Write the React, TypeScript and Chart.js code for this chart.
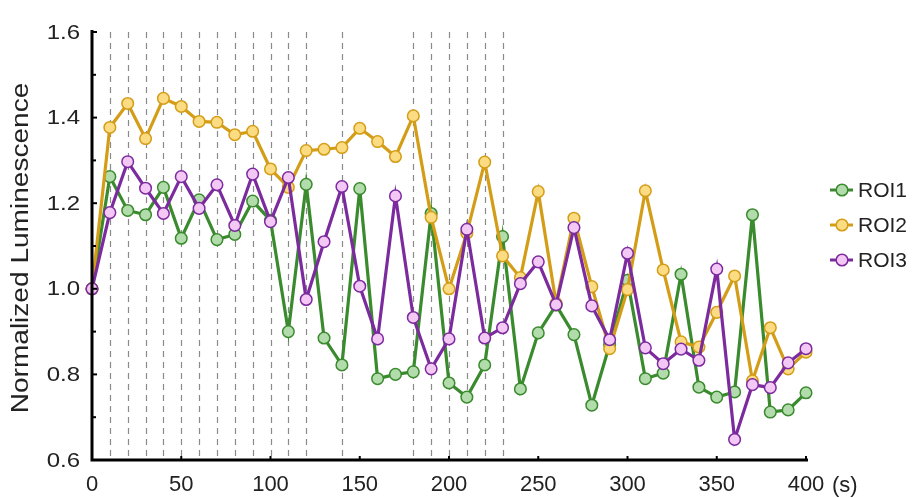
import React, { useEffect, useRef } from "react";
import { Chart, registerables } from "chart.js";

Chart.register(...registerables);

const times = [0, 10, 20, 30, 40, 50, 60, 70, 80, 90, 100, 110, 120, 130, 140, 150, 160, 170, 180, 190, 200, 210, 220, 230, 240, 250, 260, 270, 280, 290, 300, 310, 320, 330, 340, 350, 360, 370, 380, 390, 400];

const roi1 = [1.0, 1.262, 1.183, 1.173, 1.237, 1.118, 1.208, 1.115, 1.127, 1.205, 1.16, 0.9, 1.244, 0.885, 0.822, 1.234, 0.79, 0.8, 0.806, 1.176, 0.78, 0.747, 0.822, 1.122, 0.766, 0.897, 0.962, 0.893, 0.728, 0.87, 1.02, 0.79, 0.803, 1.034, 0.77, 0.747, 0.759, 1.173, 0.712, 0.717, 0.757];
const roi2 = [1.0, 1.377, 1.433, 1.351, 1.445, 1.426, 1.391, 1.389, 1.36, 1.368, 1.28, 1.237, 1.323, 1.326, 1.33, 1.375, 1.344, 1.309, 1.404, 1.167, 1.0, 1.13, 1.296, 1.077, 1.026, 1.227, 0.966, 1.165, 1.005, 0.86, 0.998, 1.229, 1.044, 0.876, 0.864, 0.945, 1.03, 0.785, 0.909, 0.813, 0.852];
const roi3 = [1.0, 1.178, 1.297, 1.235, 1.176, 1.262, 1.188, 1.243, 1.148, 1.268, 1.157, 1.26, 0.975, 1.11, 1.239, 1.006, 0.883, 1.217, 0.933, 0.813, 0.883, 1.139, 0.885, 0.909, 1.012, 1.063, 0.963, 1.143, 0.96, 0.881, 1.083, 0.862, 0.825, 0.859, 0.833, 1.046, 0.648, 0.776, 0.769, 0.827, 0.86];

const seriesNames = ["ROI1", "ROI2", "ROI3"];
const markerTimes = [10, 20, 30, 40, 50, 60, 70, 80, 90, 100, 110, 120, 140, 180, 190, 200, 210, 220, 230];
const yTicks = [0.6, 0.8, 1.0, 1.2, 1.4, 1.6];
const yMinorTicks = [0.7, 0.9, 1.1, 1.3, 1.5];
const xTicks = [0, 50, 100, 150, 200, 250, 300, 350, 400];
const yTitle = "Normalized Luminescence";
const xUnit = "(s)";

const lineColors = ["#3a8a2e", "#d49d17", "#7c2b9f"];
const fillColors = ["#b3dcac", "#fcdc82", "#f4c8f4"];
const FONT = "'Liberation Sans', Arial, sans-serif";

export default function App() {
  const ref = useRef<HTMLCanvasElement | null>(null);

  useEffect(() => {
    const canvas = ref.current;
    if (!canvas) return;
    const allSeries = [roi1, roi2, roi3];

    const decorations = {
      id: "decorations",
      beforeDatasetsDraw(chart: any) {
        const { ctx, chartArea, scales } = chart;
        ctx.save();
        ctx.strokeStyle = "#8a8a8a";
        ctx.lineWidth = 1.2;
        ctx.setLineDash([6, 5]);
        for (const t of markerTimes) {
          const x = Math.round(scales.x.getPixelForValue(t)) + 0.5;
          ctx.beginPath();
          ctx.moveTo(x, chartArea.top);
          ctx.lineTo(x, chartArea.bottom);
          ctx.stroke();
        }
        ctx.restore();
      },
      afterDraw(chart: any) {
        const { ctx, chartArea, scales } = chart;
        ctx.save();
        // axes
        ctx.strokeStyle = "#000";
        ctx.lineWidth = 3;
        ctx.beginPath();
        ctx.moveTo(chartArea.left, chartArea.top - 2);
        ctx.lineTo(chartArea.left, chartArea.bottom);
        ctx.lineTo(chartArea.right + 2, chartArea.bottom);
        ctx.stroke();
        ctx.lineWidth = 2;
        for (const v of yTicks) {
          const y = scales.y.getPixelForValue(v);
          ctx.beginPath();
          ctx.moveTo(chartArea.left, y);
          ctx.lineTo(chartArea.left + 5, y);
          ctx.stroke();
        }
        for (const v of yMinorTicks) {
          const y = scales.y.getPixelForValue(v);
          ctx.beginPath();
          ctx.moveTo(chartArea.left, y);
          ctx.lineTo(chartArea.left + 4, y);
          ctx.stroke();
        }
        for (const v of xTicks) {
          const x = scales.x.getPixelForValue(v);
          ctx.beginPath();
          ctx.moveTo(x, chartArea.bottom);
          ctx.lineTo(x, chartArea.bottom - 4);
          ctx.stroke();
        }
        ctx.fillStyle = "#222";
        // y tick labels (slightly widened like the original lettering)
        ctx.font = `20px ${FONT}`;
        ctx.textAlign = "right";
        ctx.textBaseline = "middle";
        for (const v of yTicks) {
          const y = scales.y.getPixelForValue(v);
          ctx.save();
          ctx.translate(chartArea.left - 12, y + 1);
          ctx.scale(1.2, 1);
          ctx.fillText(v.toFixed(1), 0, 0);
          ctx.restore();
        }
        // y title
        ctx.save();
        ctx.translate(22, (chartArea.top + chartArea.bottom) / 2 + 2);
        ctx.rotate(-Math.PI / 2);
        ctx.scale(1.22, 1);
        ctx.font = `23px ${FONT}`;
        ctx.textAlign = "center";
        ctx.textBaseline = "middle";
        ctx.fillText(yTitle, 0, 0);
        ctx.restore();
        // unit label
        ctx.font = `22px ${FONT}`;
        ctx.textAlign = "left";
        ctx.textBaseline = "middle";
        ctx.fillText(xUnit, 832, 486);
        // legend
        const legendY = [190, 225, 260];
        seriesNames.forEach((name, i) => {
          const y = legendY[i];
          ctx.strokeStyle = lineColors[i];
          ctx.lineWidth = 3;
          ctx.beginPath();
          ctx.moveTo(830, y);
          ctx.lineTo(853, y);
          ctx.stroke();
          ctx.beginPath();
          ctx.arc(842, y, 5.8, 0, Math.PI * 2);
          ctx.fillStyle = fillColors[i];
          ctx.fill();
          ctx.lineWidth = 1.5;
          ctx.stroke();
          ctx.fillStyle = "#222";
          ctx.font = `21px ${FONT}`;
          ctx.textAlign = "left";
          ctx.textBaseline = "middle";
          ctx.fillText(name, 858, y + 1);
        });
        ctx.restore();
      },
    };

    const chart = new Chart(canvas, {
      type: "line",
      data: {
        datasets: allSeries.map((s, i) => ({
          label: seriesNames[i],
          data: times.map((t, k) => ({ x: t, y: s[k] })),
          borderColor: lineColors[i],
          backgroundColor: fillColors[i],
          pointBackgroundColor: fillColors[i],
          pointBorderColor: lineColors[i],
          borderWidth: 3.2,
          pointRadius: 5.8,
          pointBorderWidth: 1.5,
          tension: 0,
          clip: false,
          order: 2 - i,
        })),
      },
      options: {
        animation: false,
        responsive: false,
        maintainAspectRatio: false,
        layout: { padding: { left: 0, right: 109, top: 32, bottom: 0 } },
        plugins: { legend: { display: false }, tooltip: { enabled: false } },
        scales: {
          x: {
            type: "linear",
            min: 0,
            max: 400,
            grid: { display: false, drawTicks: false },
            border: { display: false },
            ticks: {
              stepSize: 50,
              padding: 12,
              color: "#222",
              font: { size: 22, family: FONT },
              maxRotation: 0,
              autoSkip: false,
            },
            afterFit: (scale: any) => {
              scale.height = 38;
            },
          },
          y: {
            min: 0.6,
            max: 1.6,
            grid: { display: false, drawTicks: false },
            border: { display: false },
            ticks: {
              display: false,
              stepSize: 0.2,
            },
            afterFit: (scale: any) => {
              scale.width = 92;
            },
          },
        },
      },
      plugins: [decorations],
    });
    return () => chart.destroy();
  }, []);

  return (
    <div style={{ position: "absolute", left: 0, top: 0, width: 915, height: 498, background: "#fff" }}>
      <canvas ref={ref} width={915} height={498} style={{ width: 915, height: 498 }} />
    </div>
  );
}
